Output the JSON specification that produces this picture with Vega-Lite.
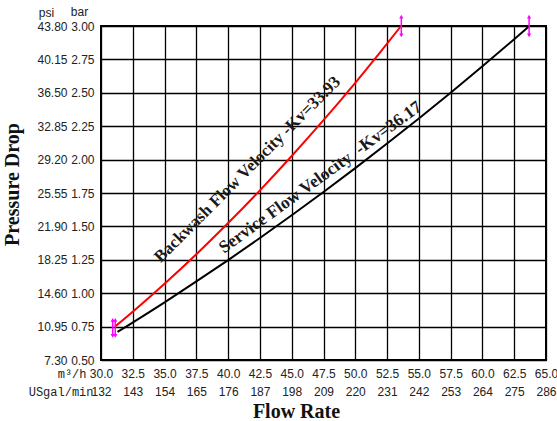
{
  "$schema": "https://vega.github.io/schema/vega-lite/v6.json",
  "width": 445,
  "height": 334,
  "autosize": {"type": "none"},
  "padding": {"left": 101, "top": 26, "right": 11, "bottom": 61},
  "background": "white",
  "config": {
    "view": {"stroke": "#000", "strokeWidth": 2},
    "axis": {
      "labelFont": "Liberation Sans",
      "labelFontSize": 12,
      "labelColor": "#222",
      "labelOverlap": false,
      "labelBound": false,
      "labelFlush": false,
      "ticks": false,
      "domain": false,
      "gridColor": "#000",
      "gridWidth": 1.3,
      "gridOpacity": 1
    }
  },
  "datasets": {
    "backwash": [
      {"flow": 31.1, "bar": 0.75},
      {"flow": 33.0, "bar": 0.903},
      {"flow": 35.0, "bar": 1.071},
      {"flow": 37.5, "bar": 1.292},
      {"flow": 40.0, "bar": 1.525},
      {"flow": 42.5, "bar": 1.77},
      {"flow": 45.0, "bar": 2.027},
      {"flow": 47.5, "bar": 2.295},
      {"flow": 50.0, "bar": 2.575},
      {"flow": 52.0, "bar": 2.808},
      {"flow": 53.6, "bar": 3.0}
    ],
    "service": [
      {"flow": 31.3, "bar": 0.71},
      {"flow": 35.0, "bar": 0.932},
      {"flow": 37.5, "bar": 1.088},
      {"flow": 40.0, "bar": 1.248},
      {"flow": 42.5, "bar": 1.413},
      {"flow": 45.0, "bar": 1.583},
      {"flow": 47.5, "bar": 1.757},
      {"flow": 50.0, "bar": 1.936},
      {"flow": 52.5, "bar": 2.12},
      {"flow": 55.0, "bar": 2.308},
      {"flow": 57.5, "bar": 2.501},
      {"flow": 60.0, "bar": 2.699},
      {"flow": 62.5, "bar": 2.901},
      {"flow": 63.7, "bar": 3.0}
    ],
    "markers": [
      {"flow": 30.92, "lo": 0.68, "hi": 0.8},
      {"flow": 31.12, "lo": 0.68, "hi": 0.8},
      {"flow": 53.62, "lo": 2.93, "hi": 3.07},
      {"flow": 63.67, "lo": 2.93, "hi": 3.07}
    ],
    "labelBack": [{"flow": 41.8, "bar": 1.9, "text": "Backwash Flow Velocity -Kv=33.93"}],
    "labelServ": [{"flow": 47.5, "bar": 1.836, "text": "Service Flow Velocity \u00a0-Kv=36.17"}]
  },
  "resolve": {"axis": {"x": "independent", "y": "independent"}},
  "layer": [
    {
      "data": {"name": "backwash"},
      "mark": {"type": "line", "color": "#ff0000", "strokeWidth": 2, "interpolate": "monotone", "clip": false},
      "encoding": {
        "x": {
          "field": "flow", "type": "quantitative",
          "scale": {"domain": [30, 65], "nice": false, "zero": false},
          "axis": {
            "orient": "bottom",
            "values": [30, 32.5, 35, 37.5, 40, 42.5, 45, 47.5, 50, 52.5, 55, 57.5, 60, 62.5, 65],
            "format": ".1f", "grid": true, "labelPadding": 8,
            "title": "m³/h", "titleFont": "Liberation Mono", "titleFontSize": 12, "titleFontWeight": "normal",
            "titleColor": "#222", "titleAlign": "right", "titleBaseline": "top", "titleX": -15, "titleY": 8
          }
        },
        "y": {
          "field": "bar", "type": "quantitative",
          "scale": {"domain": [0.5, 3.0], "nice": false, "zero": false},
          "axis": {
            "orient": "left",
            "values": [0.5, 0.75, 1.0, 1.25, 1.5, 1.75, 2.0, 2.25, 2.5, 2.75, 3.0],
            "format": ".2f", "grid": true, "labelPadding": 7,
            "title": "bar", "titleAngle": 0, "titleFont": "Liberation Sans", "titleFontSize": 12,
            "titleFontWeight": "normal", "titleColor": "#222", "titleAlign": "center", "titleBaseline": "middle",
            "titleX": -22, "titleY": -15
          }
        }
      }
    },
    {
      "data": {"name": "service"},
      "mark": {"type": "line", "color": "#000", "strokeWidth": 2, "interpolate": "monotone", "clip": false},
      "encoding": {
        "x": {
          "field": "flow", "type": "quantitative",
          "scale": {"domain": [30, 65], "nice": false, "zero": false},
          "axis": {
            "orient": "bottom", "offset": 18,
            "values": [30, 32.5, 35, 37.5, 40, 42.5, 45, 47.5, 50, 52.5, 55, 57.5, 60, 62.5, 65],
            "labelExpr": "format(datum.value * 4.4, '.0f')", "grid": false, "labelPadding": 8,
            "title": "USgal/min", "titleFont": "Liberation Mono", "titleFontSize": 12, "titleFontWeight": "normal",
            "titleColor": "#222", "titleAlign": "right", "titleBaseline": "top", "titleX": -8, "titleY": 8
          }
        },
        "y": {
          "field": "bar", "type": "quantitative",
          "scale": {"domain": [0.5, 3.0], "nice": false, "zero": false},
          "axis": {
            "orient": "left", "offset": 30,
            "values": [0.5, 0.75, 1.0, 1.25, 1.5, 1.75, 2.0, 2.25, 2.5, 2.75, 3.0],
            "labelExpr": "format(datum.value * 14.6, '.2f')", "grid": false, "labelPadding": 4,
            "title": "psi", "titleAngle": 0, "titleFont": "Liberation Sans", "titleFontSize": 12,
            "titleFontWeight": "normal", "titleColor": "#222", "titleAlign": "center", "titleBaseline": "middle",
            "titleX": -25, "titleY": -14
          }
        }
      }
    },
    {
      "data": {"name": "markers"},
      "mark": {"type": "rule", "color": "#ff00ff", "strokeWidth": 1.5, "clip": false},
      "encoding": {
        "x": {
          "field": "flow", "type": "quantitative",
          "scale": {"domain": [30, 65], "nice": false, "zero": false},
          "axis": {
            "orient": "bottom", "labels": false, "grid": false,
            "title": "Flow Rate", "titleFont": "Liberation Serif", "titleFontSize": 20, "titleFontWeight": "bold",
            "titleColor": "#111", "titleAlign": "center", "titleBaseline": "alphabetic", "titleX": 195, "titleY": 57
          }
        },
        "y": {
          "field": "lo", "type": "quantitative",
          "scale": {"domain": [0.5, 3.0], "nice": false, "zero": false},
          "axis": {
            "orient": "left", "labels": false, "grid": false,
            "title": "Pressure Drop", "titleAngle": -90, "titleFont": "Liberation Serif", "titleFontSize": 20,
            "titleFontWeight": "bold", "titleColor": "#111", "titleAlign": "center", "titleBaseline": "middle",
            "titleX": -89, "titleY": 158
          }
        },
        "y2": {"field": "hi"}
      }
    },
    {
      "data": {"name": "markers"},
      "mark": {"type": "point", "shape": "triangle-up", "filled": true, "color": "#ff00ff", "size": 18, "opacity": 1, "clip": false},
      "encoding": {
        "x": {"field": "flow", "type": "quantitative", "axis": null},
        "y": {"field": "hi", "type": "quantitative", "axis": null}
      }
    },
    {
      "data": {"name": "markers"},
      "mark": {"type": "point", "shape": "triangle-down", "filled": true, "color": "#ff00ff", "size": 18, "opacity": 1, "clip": false},
      "encoding": {
        "x": {"field": "flow", "type": "quantitative", "axis": null},
        "y": {"field": "lo", "type": "quantitative", "axis": null}
      }
    },
    {
      "data": {"name": "labelBack"},
      "mark": {"type": "text", "angle": -45, "align": "center", "baseline": "alphabetic", "font": "Liberation Serif", "fontSize": 17, "fontWeight": "bold", "color": "#1a1a1a"},
      "encoding": {
        "x": {"field": "flow", "type": "quantitative", "axis": null},
        "y": {"field": "bar", "type": "quantitative", "axis": null},
        "text": {"field": "text"}
      }
    },
    {
      "data": {"name": "labelServ"},
      "mark": {"type": "text", "angle": -36, "align": "center", "baseline": "alphabetic", "font": "Liberation Serif", "fontSize": 17.5, "fontWeight": "bold", "color": "#1a1a1a"},
      "encoding": {
        "x": {"field": "flow", "type": "quantitative", "axis": null},
        "y": {"field": "bar", "type": "quantitative", "axis": null},
        "text": {"field": "text"}
      }
    }
  ]
}
